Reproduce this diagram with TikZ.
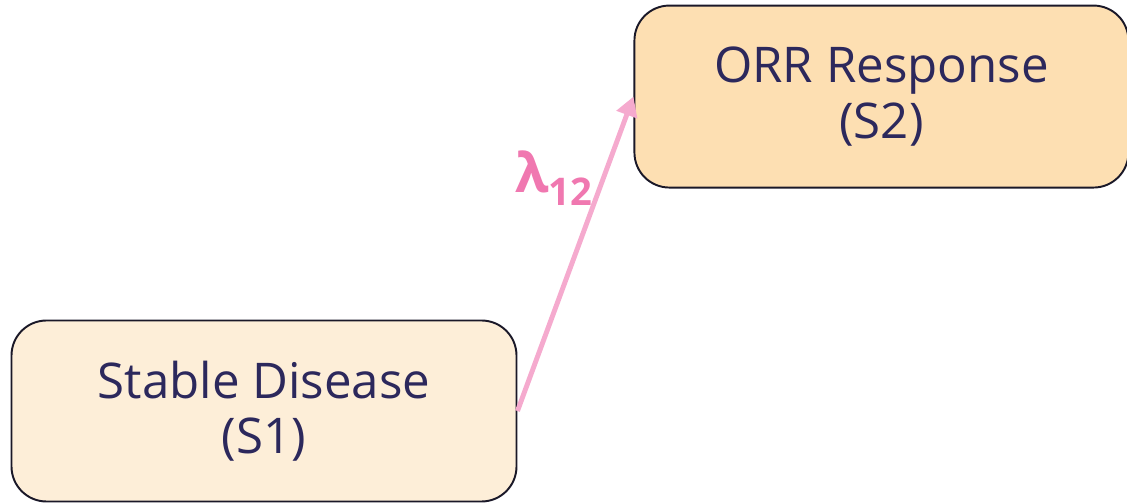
\documentclass[tikz,border=0pt]{standalone}
\usepackage{fontspec}
\setmainfont{Open Sans}
\usetikzlibrary{positioning,arrows.meta}

\definecolor{txtnavy}{RGB}{44,40,92}
\definecolor{boxline}{RGB}{26,24,40}
\definecolor{fillone}{RGB}{253,238,216}
\definecolor{filltwo}{RGB}{253,223,178}
\definecolor{arrowpink}{RGB}{245,170,206}
\definecolor{labelpink}{RGB}{240,120,176}

\tikzset{
  state/.style={draw=boxline, line width=1.1pt, rounded corners=0.7cm,
    text=txtnavy, align=center, font=\fontsize{28}{31.5}\selectfont},
  trans/.style={draw=arrowpink, line width=2.8pt,
    -{Triangle[length=11pt,width=12pt]}},
}

\begin{document}
\begin{tikzpicture}
    \useasboundingbox (0,0) rectangle (22.54,10.08);
    \node [state, fill=fillone, minimum width=10.1cm, minimum height=3.62cm] (s1) at (5.28,1.86) {Stable Disease\\(S1)};
    \node [state, fill=filltwo, minimum width=9.88cm, minimum height=3.64cm, above right=2.62cm and 2.32cm of s1] (s2) {ORR Response\\(S2)};
    \draw [trans] (s1.east) -- node [pos=0.74, left=1pt, text=labelpink, font=\fontsize{31}{33}\selectfont\bfseries] {λ\textsubscript{12}} (s2.west);
\end{tikzpicture}
\end{document}
